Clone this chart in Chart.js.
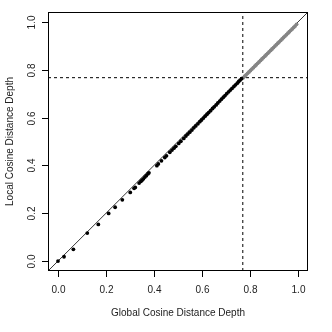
<!DOCTYPE html>
<html>
<head>
<meta charset="utf-8">
<script src="https://cdn.jsdelivr.net/npm/chart.js@4/dist/chart.umd.min.js"></script>
<style>
  html, body { margin: 0; padding: 0; background: #fff; }
  #wrap { width: 332px; height: 332px; }
</style>
</head>
<body>
<div id="wrap"><canvas id="depth-plot" width="332" height="332"></canvas></div>
<script>
// axis limits (R style, 4% extension) and ticks
const axisMin = -0.0417;
const axisMax = 1.0417;
const xTicks = [0, 0.2, 0.4, 0.6, 0.8, 1.0];
const yTicks = [0, 0.2, 0.4, 0.6, 0.8, 1.0];
const xTitle = "Global Cosine Distance Depth";
const yTitle = "Local Cosine Distance Depth";

// cutoffs for the dashed lines
const cutX = 0.770;
const cutY = 0.767;

// points below the cutoff (black)
const globalLow = [
  0.000, 0.025, 0.064, 0.122, 0.168, 0.211, 0.238, 0.268, 0.301, 0.317,
  0.322, 0.338, 0.345, 0.350, 0.356, 0.362, 0.368, 0.375, 0.379, 0.412,
  0.418, 0.431, 0.445, 0.452, 0.466, 0.475, 0.483, 0.491, 0.503, 0.512,
  0.524, 0.533, 0.541, 0.549, 0.558, 0.566, 0.574, 0.583, 0.591, 0.598,
  0.606, 0.613, 0.621, 0.628, 0.636, 0.644, 0.651, 0.659, 0.666, 0.674,
  0.681, 0.689, 0.696, 0.703, 0.711, 0.718, 0.725, 0.733, 0.740, 0.747,
  0.753, 0.759, 0.765
];
const localLow = [
  0.000, 0.018, 0.049, 0.117, 0.153, 0.199, 0.225, 0.256, 0.287, 0.304,
  0.308, 0.326, 0.333, 0.338, 0.344, 0.351, 0.357, 0.365, 0.369, 0.399,
  0.406, 0.419, 0.433, 0.440, 0.455, 0.464, 0.472, 0.480, 0.492, 0.501,
  0.513, 0.523, 0.531, 0.539, 0.548, 0.557, 0.565, 0.574, 0.583, 0.590,
  0.598, 0.606, 0.614, 0.621, 0.629, 0.638, 0.645, 0.653, 0.661, 0.669,
  0.677, 0.685, 0.692, 0.700, 0.708, 0.715, 0.722, 0.730, 0.737, 0.744,
  0.751, 0.757, 0.763
];

// points above the cutoff (grey)
const globalHigh = [
  0.772, 0.778, 0.784, 0.790, 0.796, 0.802, 0.808, 0.814, 0.820, 0.826,
  0.832, 0.838, 0.844, 0.850, 0.856, 0.862, 0.868, 0.874, 0.880, 0.886,
  0.892, 0.898, 0.904, 0.910, 0.916, 0.922, 0.928, 0.934, 0.940, 0.946,
  0.952, 0.958, 0.964, 0.970, 0.976, 0.982, 0.988, 0.994
];
const localHigh = [
  0.767, 0.773, 0.779, 0.785, 0.791, 0.797, 0.803, 0.809, 0.815, 0.821,
  0.827, 0.833, 0.839, 0.845, 0.851, 0.857, 0.863, 0.869, 0.875, 0.881,
  0.887, 0.893, 0.899, 0.905, 0.911, 0.917, 0.923, 0.929, 0.935, 0.941,
  0.947, 0.953, 0.959, 0.965, 0.971, 0.977, 0.983, 0.990
];

function pairUp(xs, ys) {
  return xs.map((x, i) => ({ x: x, y: ys[i] }));
}

const fontFamily = "'Liberation Sans', Arial, sans-serif";

// R-like axes: box, outward ticks, labels and titles
const rAxes = {
  id: "rAxes",
  afterDraw(chart) {
    const ctx = chart.ctx;
    const a = chart.chartArea;
    const xs = chart.scales.x;
    const ys = chart.scales.y;
    ctx.save();
    ctx.strokeStyle = "#000";
    ctx.lineWidth = 1;
    ctx.strokeRect(Math.round(a.left) + 0.5, Math.round(a.top) + 0.5,
      Math.round(a.right - a.left) - 1, Math.round(a.bottom - a.top) - 1);

    ctx.fillStyle = "#222";
    ctx.font = "10px " + fontFamily;
    ctx.textAlign = "center";
    ctx.textBaseline = "middle";
    xTicks.forEach((v) => {
      const px = Math.round(xs.getPixelForValue(v)) + 0.5;
      ctx.beginPath();
      ctx.moveTo(px, a.bottom);
      ctx.lineTo(px, a.bottom + 6);
      ctx.stroke();
      ctx.fillText(v.toFixed(1), px, a.bottom + 19);
    });
    yTicks.forEach((v) => {
      const py = Math.round(ys.getPixelForValue(v)) + 0.5;
      ctx.beginPath();
      ctx.moveTo(a.left, py);
      ctx.lineTo(a.left - 6, py);
      ctx.stroke();
      ctx.save();
      ctx.translate(a.left - 16, py);
      ctx.rotate(-Math.PI / 2);
      ctx.fillText(v.toFixed(1), 0, 0);
      ctx.restore();
    });

    ctx.fillText(xTitle, (a.left + a.right) / 2, a.bottom + 42);
    ctx.save();
    ctx.translate(10, (a.top + a.bottom) / 2);
    ctx.rotate(-Math.PI / 2);
    ctx.fillText(yTitle, 0, 0);
    ctx.restore();
    ctx.restore();
  },
};

new Chart(document.getElementById("depth-plot"), {
  type: "scatter",
  data: {
    datasets: [
      {
        label: "high",
        data: pairUp(globalHigh, localHigh),
        pointRadius: 1.9,
        pointBackgroundColor: "#858585",
        pointBorderWidth: 0,
        order: 2,
      },
      {
        label: "low",
        data: pairUp(globalLow, localLow),
        pointRadius: 1.9,
        pointBackgroundColor: "#000",
        pointBorderWidth: 0,
        order: 1,
      },
      {
        label: "diagonal",
        type: "line",
        data: [{ x: axisMin, y: axisMin }, { x: axisMax, y: axisMax }],
        borderColor: "#000",
        borderWidth: 0.8,
        pointRadius: 0,
        order: 5,
      },
      {
        label: "cutX",
        type: "line",
        data: [{ x: cutX, y: axisMin }, { x: cutX, y: axisMax }],
        borderColor: "#000",
        borderWidth: 1,
        borderDash: [3, 3],
        pointRadius: 0,
        order: 4,
      },
      {
        label: "cutY",
        type: "line",
        data: [{ x: axisMin, y: cutY }, { x: axisMax, y: cutY }],
        borderColor: "#000",
        borderWidth: 1,
        borderDash: [3, 3],
        pointRadius: 0,
        order: 3,
      },
    ],
  },
  options: {
    responsive: false,
    animation: false,
    layout: { padding: { left: 48, right: 24, top: 12, bottom: 61 } },
    plugins: {
      legend: { display: false },
      tooltip: { enabled: false },
    },
    scales: {
      x: { type: "linear", min: axisMin, max: axisMax, display: false },
      y: { type: "linear", min: axisMin, max: axisMax, display: false },
    },
  },
  plugins: [rAxes],
});
</script>
</body>
</html>
